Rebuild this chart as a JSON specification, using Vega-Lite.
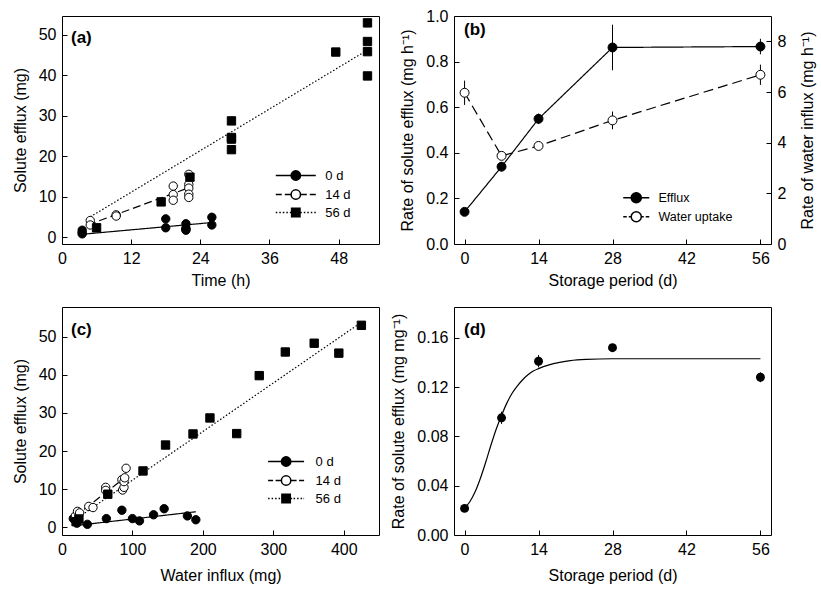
{
  "$schema": "https://vega.github.io/schema/vega-lite/v6.json",
  "background": "white",
  "padding": {"left": 11, "top": 7, "right": 2, "bottom": 2},
  "config": {
    "font": "Liberation Sans",
    "view": {"stroke": "black", "strokeWidth": 1},
    "axis": {"domain": false, "grid": false, "ticks": true, "tickColor": "black", "tickSize": -5, "tickWidth": 1, "labelPadding": 11, "labelFontSize": 16, "labelColor": "black", "labelFont": "Liberation Sans", "titleFont": "Liberation Sans", "titleFontSize": 16, "titleFontWeight": "normal", "titleColor": "black", "titlePadding": 10, "labelOverlap": false, "labelFlush": false},
    "legend": {"labelFont": "Liberation Sans", "labelFontSize": 13, "labelColor": "black", "padding": 0, "rowPadding": 2},
    "title": {"font": "Liberation Sans", "fontSize": 17, "fontWeight": "bold", "anchor": "start", "frame": "group", "color": "black", "baseline": "middle"}
  },
  "datasets": {
    "a_pts": [
      {"series": "0 d", "time": 3.5, "efflux": 0.8}, {"series": "0 d", "time": 3.5, "efflux": 1.1}, {"series": "0 d", "time": 3.5, "efflux": 1.7},
      {"series": "0 d", "time": 18, "efflux": 4.5}, {"series": "0 d", "time": 18, "efflux": 2.3},
      {"series": "0 d", "time": 21.5, "efflux": 3.3}, {"series": "0 d", "time": 21.5, "efflux": 2.2}, {"series": "0 d", "time": 21.5, "efflux": 1.9}, {"series": "0 d", "time": 21.5, "efflux": 1.7},
      {"series": "0 d", "time": 26, "efflux": 4.9}, {"series": "0 d", "time": 26, "efflux": 3.0},
      {"series": "14 d", "time": 4.9, "efflux": 4.1}, {"series": "14 d", "time": 4.9, "efflux": 3.0},
      {"series": "14 d", "time": 9.4, "efflux": 5.5}, {"series": "14 d", "time": 9.4, "efflux": 5.2},
      {"series": "14 d", "time": 19.3, "efflux": 12.6}, {"series": "14 d", "time": 19.3, "efflux": 10.5}, {"series": "14 d", "time": 19.3, "efflux": 9.1},
      {"series": "14 d", "time": 22, "efflux": 15.5}, {"series": "14 d", "time": 22, "efflux": 13.0}, {"series": "14 d", "time": 22, "efflux": 12.1}, {"series": "14 d", "time": 22, "efflux": 10.6}, {"series": "14 d", "time": 22, "efflux": 9.8},
      {"series": "56 d", "time": 6.0, "efflux": 2.3}, {"series": "56 d", "time": 17.2, "efflux": 8.7}, {"series": "56 d", "time": 22.2, "efflux": 14.8},
      {"series": "56 d", "time": 29.4, "efflux": 28.7}, {"series": "56 d", "time": 29.4, "efflux": 24.6}, {"series": "56 d", "time": 29.4, "efflux": 24.2}, {"series": "56 d", "time": 29.4, "efflux": 21.6},
      {"series": "56 d", "time": 47.5, "efflux": 45.7},
      {"series": "56 d", "time": 53, "efflux": 52.9}, {"series": "56 d", "time": 53, "efflux": 48.3}, {"series": "56 d", "time": 53, "efflux": 45.8}, {"series": "56 d", "time": 53, "efflux": 39.8}
    ],
    "a_lines": [
      {"series": "0 d", "time": 3.5, "efflux": 0.7}, {"series": "0 d", "time": 26, "efflux": 3.6},
      {"series": "14 d", "time": 4.5, "efflux": 3.0}, {"series": "14 d", "time": 22, "efflux": 12.2},
      {"series": "56 d", "time": 4.9, "efflux": 5.0}, {"series": "56 d", "time": 53, "efflux": 46.2}
    ],
    "b": [
      {"series": "Efflux", "day": 0, "value": 0.141, "err": 0.01},
      {"series": "Efflux", "day": 7, "value": 0.339, "err": 0.02},
      {"series": "Efflux", "day": 14, "value": 0.549, "err": 0.023},
      {"series": "Efflux", "day": 28, "value": 0.862, "err": 0.1},
      {"series": "Efflux", "day": 56, "value": 0.866, "err": 0.034},
      {"series": "Water uptake", "day": 0, "value": 5.97, "err": 0.48},
      {"series": "Water uptake", "day": 7, "value": 3.48, "err": 0.13},
      {"series": "Water uptake", "day": 14, "value": 3.87, "err": 0.1},
      {"series": "Water uptake", "day": 28, "value": 4.88, "err": 0.35},
      {"series": "Water uptake", "day": 56, "value": 6.68, "err": 0.4}
    ],
    "c_pts": [
      {"series": "0 d", "influx": 16, "efflux": 2.3}, {"series": "0 d", "influx": 19, "efflux": 1.8}, {"series": "0 d", "influx": 21, "efflux": 1.1},
      {"series": "0 d", "influx": 36, "efflux": 0.8}, {"series": "0 d", "influx": 63, "efflux": 2.3}, {"series": "0 d", "influx": 85, "efflux": 4.5},
      {"series": "0 d", "influx": 100, "efflux": 2.3}, {"series": "0 d", "influx": 110, "efflux": 1.7}, {"series": "0 d", "influx": 130, "efflux": 3.3},
      {"series": "0 d", "influx": 145, "efflux": 4.9}, {"series": "0 d", "influx": 178, "efflux": 3.0}, {"series": "0 d", "influx": 190, "efflux": 2.0},
      {"series": "14 d", "influx": 19, "efflux": 3.0}, {"series": "14 d", "influx": 22, "efflux": 4.2}, {"series": "14 d", "influx": 25, "efflux": 3.8},
      {"series": "14 d", "influx": 38, "efflux": 5.5}, {"series": "14 d", "influx": 44, "efflux": 5.2}, {"series": "14 d", "influx": 62, "efflux": 10.5},
      {"series": "14 d", "influx": 62, "efflux": 9.7}, {"series": "14 d", "influx": 85, "efflux": 12.5}, {"series": "14 d", "influx": 86, "efflux": 9.8},
      {"series": "14 d", "influx": 88, "efflux": 10.5}, {"series": "14 d", "influx": 88, "efflux": 12.0}, {"series": "14 d", "influx": 89, "efflux": 13.0},
      {"series": "14 d", "influx": 91, "efflux": 15.5},
      {"series": "56 d", "influx": 20, "efflux": 1.5}, {"series": "56 d", "influx": 24, "efflux": 2.2}, {"series": "56 d", "influx": 65, "efflux": 8.7},
      {"series": "56 d", "influx": 115, "efflux": 14.8}, {"series": "56 d", "influx": 147, "efflux": 21.6}, {"series": "56 d", "influx": 186, "efflux": 24.5},
      {"series": "56 d", "influx": 210, "efflux": 28.7}, {"series": "56 d", "influx": 248, "efflux": 24.6}, {"series": "56 d", "influx": 280, "efflux": 39.8},
      {"series": "56 d", "influx": 317, "efflux": 46.0}, {"series": "56 d", "influx": 358, "efflux": 48.3}, {"series": "56 d", "influx": 393, "efflux": 45.7},
      {"series": "56 d", "influx": 425, "efflux": 53.0}
    ],
    "c_lines": [
      {"series": "0 d", "influx": 20, "efflux": 0.5}, {"series": "0 d", "influx": 190, "efflux": 4.1},
      {"series": "14 d", "influx": 18, "efflux": 2.8}, {"series": "14 d", "influx": 89, "efflux": 13.0},
      {"series": "56 d", "influx": 20, "efflux": 2.2}, {"series": "56 d", "influx": 425, "efflux": 53.8}
    ],
    "d_pts": [
      {"day": 0, "rate": 0.0216, "err": 0.003},
      {"day": 7, "rate": 0.0951, "err": 0.005},
      {"day": 14, "rate": 0.141, "err": 0.005},
      {"day": 28, "rate": 0.152, "err": 0.002},
      {"day": 56, "rate": 0.128, "err": 0.004}
    ],
    "d_curve": [
      {"day": 0, "rate": 0.022}, {"day": 1, "rate": 0.027}, {"day": 2, "rate": 0.035}, {"day": 3, "rate": 0.046},
      {"day": 4, "rate": 0.059}, {"day": 5, "rate": 0.073}, {"day": 6, "rate": 0.086}, {"day": 7, "rate": 0.097},
      {"day": 8, "rate": 0.107}, {"day": 9, "rate": 0.115}, {"day": 10, "rate": 0.121}, {"day": 11, "rate": 0.126},
      {"day": 12, "rate": 0.13}, {"day": 13, "rate": 0.133}, {"day": 14, "rate": 0.135}, {"day": 16, "rate": 0.138},
      {"day": 18, "rate": 0.14}, {"day": 20, "rate": 0.1415}, {"day": 23, "rate": 0.1425}, {"day": 28, "rate": 0.143},
      {"day": 56, "rate": 0.143}
    ]
  },
  "bounds": "flush",
  "columns": 2,
  "spacing": {"row": 63, "column": 75},
  "resolve": {
    "scale": {"strokeDash": "independent", "shape": "independent", "fill": "independent"},
    "legend": {"strokeDash": "independent", "shape": "independent", "fill": "independent"}
  },
  "concat": [
    {
      "width": 317, "height": 228,
      "title": {"text": "(a)", "offset": -31, "dx": 9},
      "layer": [
        {
          "data": {"name": "a_lines"},
          "mark": {"type": "line", "color": "black", "strokeWidth": 1.2},
          "encoding": {
            "x": {"field": "time", "type": "quantitative", "scale": {"domain": [0, 55], "nice": false, "zero": false}, "axis": {"values": [0, 12, 24, 36, 48], "title": "Time (h)", "titlePadding": 6}},
            "y": {"field": "efflux", "type": "quantitative", "scale": {"domain": [-1.7, 54.6], "nice": false, "zero": false}, "axis": {"values": [0, 10, 20, 30, 40, 50], "title": "Solute efflux (mg)"}},
            "strokeDash": {"field": "series", "type": "nominal", "scale": {"range": [[1, 0], [8, 4], [1.5, 2]]}, "legend": null}
          }
        },
        {
          "data": {"name": "a_pts"},
          "mark": {"type": "point", "filled": true, "stroke": "black", "strokeWidth": 1, "size": 70, "opacity": 1},
          "encoding": {
            "x": {"field": "time", "type": "quantitative"},
            "y": {"field": "efflux", "type": "quantitative"},
            "shape": {"field": "series", "type": "nominal", "scale": {"range": ["circle", "circle", "square"]}, "legend": null},
            "fill": {"field": "series", "type": "nominal", "scale": {"domain": ["0 d", "14 d", "56 d"], "range": ["black", "white", "black"]},
              "legend": {"orient": "none", "legendX": 227.3, "legendY": 153, "title": null, "symbolSize": 100, "labelOffset": 23,
                "symbolType": {"expr": "datum.value === '56 d' ? 'M-4,0H-3.7M-3.3,0H-3M-2.6,0H-2.3M-1.9,0H-1.6M-1.2,0H-0.9M0.9,0H1.2M1.6,0H1.9M2.3,0H2.6M3,0H3.3M3.7,0H4M-0.84,-0.84H0.84V0.84H-0.84Z' : (datum.value === '14 d' ? 'M-4,0H-2.8M-2.2,0H-0.94M0.94,0H2.2M2.8,0H4M0.94,0A0.94,0.94,0,1,1,-0.94,0A0.94,0.94,0,1,1,0.94,0Z' : 'M-4,0H-0.94M0.94,0H4M0.94,0A0.94,0.94,0,1,1,-0.94,0A0.94,0.94,0,1,1,0.94,0Z')"},
                "encode": {"symbols": {"stroke": {"value": "black"}, "strokeWidth": {"value": 1.1}, "opacity": {"value": 1}}}}}
          }
        }
      ]
    },
    {
      "width": 317, "height": 228,
      "title": {"text": "(b)", "offset": -31, "dx": 10},
      "data": {"name": "b"},
      "encoding": {
        "x": {"field": "day", "type": "quantitative", "scale": {"domain": [-2, 58], "nice": false, "zero": false}, "axis": {"values": [0, 14, 28, 42, 56], "title": "Storage period (d)", "titlePadding": 6}}
      },
      "layer": [
        {
          "transform": [{"filter": "datum.series === 'Efflux'"}],
          "encoding": {
            "y": {"field": "value", "type": "quantitative", "title": "Rate of solute efflux (mg h⁻¹)", "scale": {"domain": [0, 1], "nice": false, "zero": false}, "axis": {"values": [0, 0.2, 0.4, 0.6, 0.8, 1.0], "format": ".1f"}}
          },
          "layer": [
            {"mark": {"type": "errorbar", "color": "black", "thickness": 1}, "encoding": {"yError": {"field": "err"}}},
            {"mark": {"type": "line", "color": "black", "strokeWidth": 1.2},
              "encoding": {"strokeDash": {"field": "series", "type": "nominal", "scale": {"range": [[1, 0], [10, 5]]}, "legend": null}}},
            {"mark": {"type": "point", "filled": true, "stroke": "black", "strokeWidth": 1, "size": 80, "opacity": 1},
              "encoding": {"fill": {"field": "series", "type": "nominal", "scale": {"domain": ["Efflux", "Water uptake"], "range": ["black", "white"]},
                "legend": {"orient": "none", "legendX": 176, "legendY": 175.5, "title": null, "symbolSize": 100, "labelOffset": 16, "labelFontSize": 12.5,
                  "symbolType": {"expr": "datum.value === 'Water uptake' ? 'M-2.6,0H-1.9M-1.5,0H-1.01M1.01,0H1.5M1.9,0H2.6M1.01,0A1.01,1.01,0,1,1,-1.01,0A1.01,1.01,0,1,1,1.01,0Z' : 'M-2.6,0H-1.01M1.01,0H2.6M1.01,0A1.01,1.01,0,1,1,-1.01,0A1.01,1.01,0,1,1,1.01,0Z'"},
                  "encode": {"symbols": {"stroke": {"value": "black"}, "strokeWidth": {"value": 1.1}, "opacity": {"value": 1}}}}}}}
          ]
        },
        {
          "transform": [{"filter": "datum.series === 'Water uptake'"}],
          "encoding": {
            "y": {"field": "value", "type": "quantitative", "title": "Rate of water influx (mg h⁻¹)", "scale": {"domain": [0, 9], "nice": false, "zero": false}, "axis": {"orient": "right", "values": [0, 2, 4, 6, 8], "titleAngle": 270, "titleBaseline": "top", "titlePadding": 14}}
          },
          "layer": [
            {"mark": {"type": "errorbar", "color": "black", "thickness": 1}, "encoding": {"yError": {"field": "err"}}},
            {"mark": {"type": "line", "color": "black", "strokeWidth": 1.2},
              "encoding": {"strokeDash": {"field": "series", "type": "nominal", "scale": {"range": [[1, 0], [10, 5]]}, "legend": null}}},
            {"mark": {"type": "point", "filled": true, "stroke": "black", "strokeWidth": 1, "size": 80, "opacity": 1},
              "encoding": {"fill": {"field": "series", "type": "nominal", "scale": {"domain": ["Efflux", "Water uptake"], "range": ["black", "white"]},
                "legend": {"orient": "none", "legendX": 176, "legendY": 175.5, "title": null, "symbolSize": 100, "labelOffset": 16, "labelFontSize": 12.5,
                  "symbolType": {"expr": "datum.value === 'Water uptake' ? 'M-2.6,0H-1.9M-1.5,0H-1.01M1.01,0H1.5M1.9,0H2.6M1.01,0A1.01,1.01,0,1,1,-1.01,0A1.01,1.01,0,1,1,1.01,0Z' : 'M-2.6,0H-1.01M1.01,0H2.6M1.01,0A1.01,1.01,0,1,1,-1.01,0A1.01,1.01,0,1,1,1.01,0Z'"},
                  "encode": {"symbols": {"stroke": {"value": "black"}, "strokeWidth": {"value": 1.1}, "opacity": {"value": 1}}}}}}}
          ]
        }
      ],
      "resolve": {"scale": {"y": "independent"}}
    },
    {
      "width": 317, "height": 228,
      "title": {"text": "(c)", "offset": -32, "dx": 9},
      "layer": [
        {
          "data": {"name": "c_lines"},
          "mark": {"type": "line", "color": "black", "strokeWidth": 1.2},
          "encoding": {
            "x": {"field": "influx", "type": "quantitative", "scale": {"domain": [0, 450], "nice": false, "zero": false}, "axis": {"values": [0, 100, 200, 300, 400], "title": "Water influx (mg)", "titlePadding": 10}},
            "y": {"field": "efflux", "type": "quantitative", "scale": {"domain": [-2, 57.8], "nice": false, "zero": false}, "axis": {"values": [0, 10, 20, 30, 40, 50], "title": "Solute efflux (mg)"}},
            "strokeDash": {"field": "series", "type": "nominal", "scale": {"range": [[1, 0], [8, 4], [1.5, 2]]}, "legend": null}
          }
        },
        {
          "data": {"name": "c_pts"},
          "mark": {"type": "point", "filled": true, "stroke": "black", "strokeWidth": 1, "size": 70, "opacity": 1},
          "encoding": {
            "x": {"field": "influx", "type": "quantitative"},
            "y": {"field": "efflux", "type": "quantitative"},
            "shape": {"field": "series", "type": "nominal", "scale": {"range": ["circle", "circle", "square"]}, "legend": null},
            "fill": {"field": "series", "type": "nominal", "scale": {"domain": ["0 d", "14 d", "56 d"], "range": ["black", "white", "black"]},
              "legend": {"orient": "none", "legendX": 217.6, "legendY": 148, "title": null, "symbolSize": 100, "labelOffset": 23,
                "symbolType": {"expr": "datum.value === '56 d' ? 'M-3.6,0H-3.3M-2.9,0H-2.6M-2.2,0H-1.9M-1.5,0H-1.2M0.9,0H1.2M1.5,0H1.8M2.2,0H2.5M2.9,0H3.2M3.5,0H3.6M-0.84,-0.84H0.84V0.84H-0.84Z' : (datum.value === '14 d' ? 'M-3.6,0H-2.6M-2.1,0H-0.94M0.94,0H2.1M2.6,0H3.6M0.94,0A0.94,0.94,0,1,1,-0.94,0A0.94,0.94,0,1,1,0.94,0Z' : 'M-3.6,0H-0.94M0.94,0H3.6M0.94,0A0.94,0.94,0,1,1,-0.94,0A0.94,0.94,0,1,1,0.94,0Z')"},
                "encode": {"symbols": {"stroke": {"value": "black"}, "strokeWidth": {"value": 1.1}, "opacity": {"value": 1}}}}}
          }
        }
      ]
    },
    {
      "width": 317, "height": 228,
      "title": {"text": "(d)", "offset": -32, "dx": 10},
      "encoding": {
        "x": {"field": "day", "type": "quantitative", "scale": {"domain": [-2, 58], "nice": false, "zero": false}, "axis": {"values": [0, 14, 28, 42, 56], "title": "Storage period (d)", "titlePadding": 10}},
        "y": {"field": "rate", "type": "quantitative", "title": "Rate of solute efflux (mg mg⁻¹)", "scale": {"domain": [0, 0.185], "nice": false, "zero": false}, "axis": {"values": [0, 0.04, 0.08, 0.12, 0.16], "format": ".2f"}}
      },
      "layer": [
        {"data": {"name": "d_pts"}, "mark": {"type": "errorbar", "color": "black", "thickness": 1}, "encoding": {"yError": {"field": "err"}}},
        {"data": {"name": "d_curve"}, "mark": {"type": "line", "color": "black", "strokeWidth": 1.2, "interpolate": "monotone"}, "encoding": {}},
        {"data": {"name": "d_pts"}, "mark": {"type": "point", "filled": true, "color": "black", "size": 80, "opacity": 1}, "encoding": {}}
      ]
    }
  ]
}
